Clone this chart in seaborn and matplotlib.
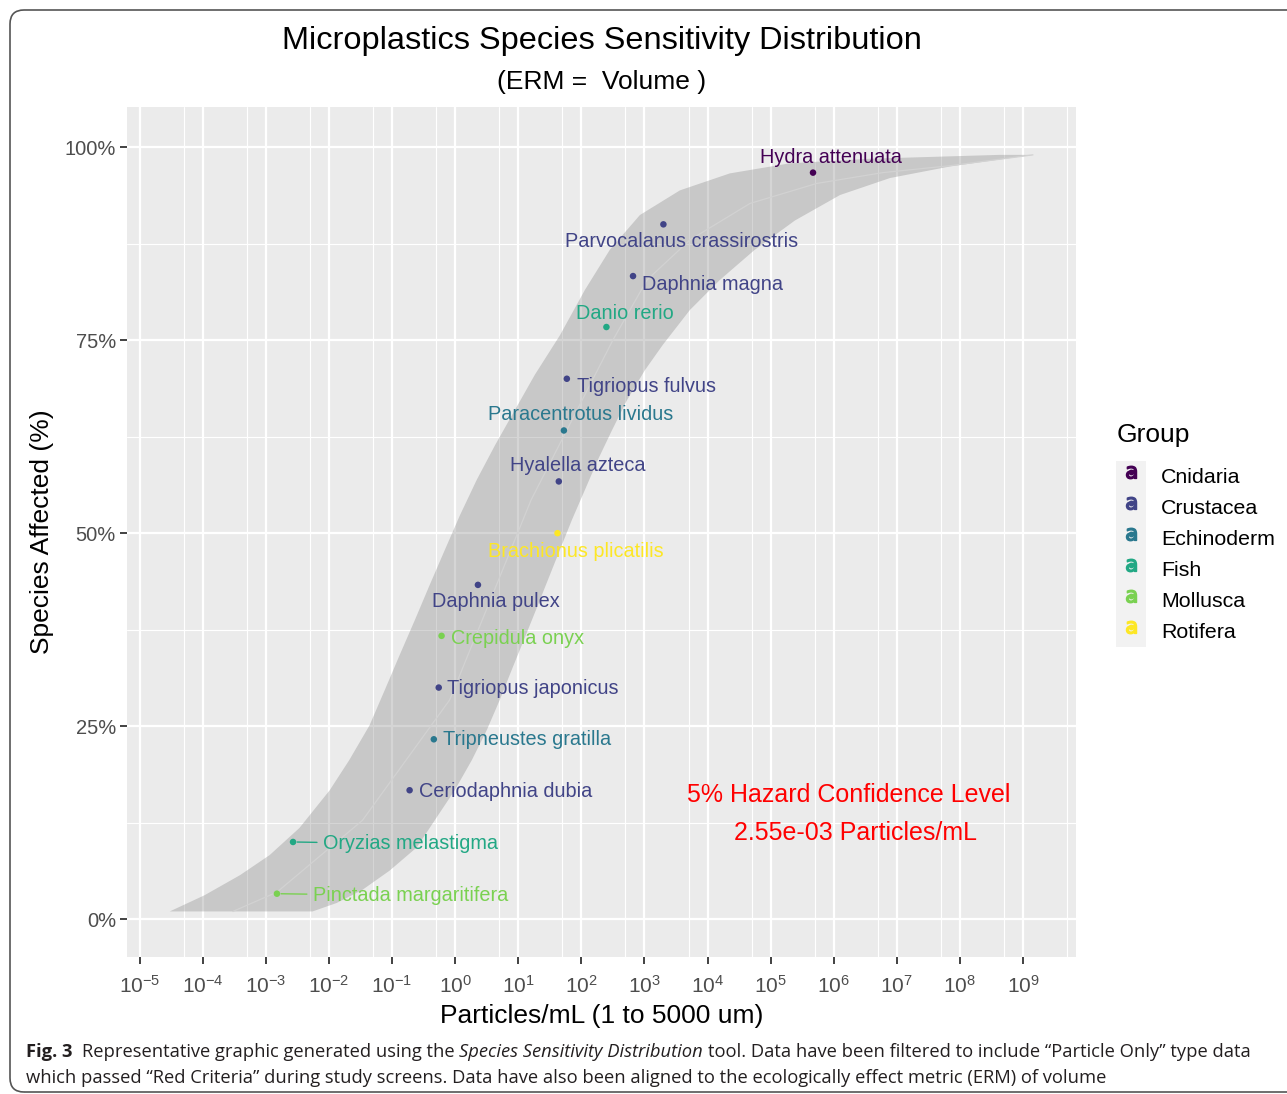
import matplotlib
matplotlib.use("Agg")
import matplotlib.pyplot as plt
import seaborn as sns
import pandas as pd
from matplotlib.ticker import FixedLocator, LogFormatterSciNotation, PercentFormatter, NullFormatter
from matplotlib.lines import Line2D
from matplotlib.patches import Patch, FancyBboxPatch
from matplotlib.legend_handler import HandlerTuple
from matplotlib.transforms import IdentityTransform

# --- data ---
species = ["Pinctada margaritifera", "Oryzias melastigma", "Ceriodaphnia dubia",
           "Tripneustes gratilla", "Tigriopus japonicus", "Crepidula onyx",
           "Daphnia pulex", "Brachionus plicatilis", "Hyalella azteca",
           "Paracentrotus lividus", "Tigriopus fulvus", "Danio rerio",
           "Daphnia magna", "Parvocalanus crassirostris", "Hydra attenuata"]
groups = ["Mollusca", "Fish", "Crustacea", "Echinoderm", "Crustacea", "Mollusca",
          "Crustacea", "Rotifera", "Crustacea", "Echinoderm", "Crustacea", "Fish",
          "Crustacea", "Crustacea", "Cnidaria"]
conc = [1.5e-3, 2.7e-3, 0.19, 0.46, 0.55, 0.61, 2.3, 42, 44, 53, 59, 250, 660, 2000, 4.7e5]
affected = [0.033, 0.100, 0.167, 0.233, 0.300, 0.367, 0.433, 0.500, 0.567,
            0.633, 0.700, 0.767, 0.833, 0.900, 0.967]

group_order = ["Cnidaria", "Crustacea", "Echinoderm", "Fish", "Mollusca", "Rotifera"]
group_colors = ["#440154", "#414487", "#2A788E", "#22A884", "#7AD151", "#FDE725"]

# confidence band edges and fitted curve
band_lo_conc = [3.0e-5, 1.07e-4, 3.9e-4, 1.15e-3, 3.4e-3, 1.03e-2, 2.1e-2, 4.4e-2, 7.7e-2,
                0.132, 0.229, 0.396, 0.685, 1.19, 2.2, 4.3, 8.8, 18.3, 45.6, 114, 283,
                847, 3650, 2.26e4, 2.0e5, 3.75e6, 4.3e8]
band_lo_frac = [0.01, 0.031, 0.057, 0.083, 0.118, 0.167, 0.206, 0.251, 0.297,
                0.342, 0.387, 0.433, 0.478, 0.523, 0.569, 0.614, 0.659, 0.705, 0.756, 0.815, 0.867,
                0.912, 0.944, 0.966, 0.979, 0.985, 0.99]
band_hi_conc = [5.5e-3, 1.33e-2, 3.4e-2, 9.2e-2, 0.247, 0.475, 0.986, 1.84, 3.18, 5.1,
                7.9, 12.2, 19.0, 29.4, 45.6, 70.8, 114, 183, 305, 527, 1016, 1960, 5250,
                1.57e4, 5.6e4, 2.43e5, 1.26e6, 7.8e6, 7.0e7, 1.44e9]
band_hi_frac = [0.01, 0.021, 0.038, 0.063, 0.093, 0.128, 0.167, 0.206, 0.245, 0.284,
                0.323, 0.361, 0.400, 0.439, 0.478, 0.517, 0.556, 0.595, 0.633, 0.672, 0.711,
                0.744, 0.789, 0.828, 0.867, 0.905, 0.938, 0.960, 0.975, 0.99]
fit_conc = [3.0e-4, 1.5e-3, 3.4e-2, 0.82, 16, 316, 1.1e3, 5.3e3, 4.7e4, 5.4e5, 6.0e6, 7.0e7, 1.44e9]
fit_frac = [0.01, 0.035, 0.128, 0.284, 0.543, 0.75, 0.828, 0.88, 0.927, 0.953, 0.967, 0.976, 0.99]

hc5_lines = ["5% Hazard Confidence Level", "2.55e-03 Particles/mL"]

# label offsets in pixels (dx, dy, ha) from each point
label_offsets = [(36, -2, "left"), (30, -2, "left"), (9, -1, "left"), (9, 0, "left"),
                 (8, -1, "left"), (9, -3, "left"), (18, -17, "center"), (18, -18, "center"),
                 (19, 16, "center"), (17, 16, "center"), (10, -8, "left"), (18, 14, "center"),
                 (9, -8, "left"), (18, -17, "center"), (18, 15, "center")]

df = pd.DataFrame({"species": species, "group": groups, "conc": conc, "affected": affected})
palette = dict(zip(group_order, group_colors))

sns.set_theme(style="darkgrid", rc={"axes.facecolor": "#EBEBEB", "grid.color": "white",
                                    "text.color": "black"})
plt.rcParams["font.family"] = ["Liberation Sans", "DejaVu Sans"]

fig = plt.figure(figsize=(12.87, 10.94), dpi=100)
ax = fig.add_axes([127 / 1287, 1 - 957 / 1094, 949 / 1287, 850 / 1094])

# band
ax.fill(band_lo_conc + band_hi_conc[::-1], band_lo_frac + band_hi_frac[::-1],
        color="#878787", alpha=0.35, lw=0, zorder=2)
sns.lineplot(x=fit_conc, y=fit_frac, sort=False, estimator=None, color="#d2d2d2",
             lw=0.9, ax=ax, zorder=3)
sns.scatterplot(data=df, x="conc", y="affected", hue="group", palette=palette,
                s=22, edgecolor="none", legend=False, ax=ax, zorder=4)

for (name, grp, cx, cy), (dx, dy, ha) in zip(df[["species", "group", "conc", "affected"]].values,
                                             label_offsets):
    col = palette[grp]
    arrow = None
    if dx >= 25:
        arrow = dict(arrowstyle="-", color=col, lw=1, shrinkA=2, shrinkB=3)
    ax.annotate(name, (cx, cy), xytext=(dx, dy), textcoords="offset pixels",
                ha=ha, va="center", color=col, fontsize=14.3, arrowprops=arrow, zorder=5)

ax.set_xscale("log")
ax.set_xlim(10 ** -5.2, 10 ** 9.84)
ax.set_ylim(-0.049, 1.052)
ax.xaxis.set_major_locator(FixedLocator([10.0 ** k for k in range(-5, 10)]))
ax.xaxis.set_major_formatter(LogFormatterSciNotation())
ax.xaxis.set_minor_locator(FixedLocator([5 * 10.0 ** k for k in range(-6, 10)]))
ax.xaxis.set_minor_formatter(NullFormatter())
ax.yaxis.set_major_locator(FixedLocator([0, 0.25, 0.5, 0.75, 1.0]))
ax.yaxis.set_major_formatter(PercentFormatter(1.0, decimals=0))
ax.yaxis.set_minor_locator(FixedLocator([0.125, 0.375, 0.625, 0.875]))
ax.grid(which="major", color="white", lw=1.6)
ax.grid(which="minor", color="white", lw=0.8)
ax.tick_params(which="major", length=5, width=1.3, color="#333333", labelcolor="#4D4D4D",
               bottom=True, left=True, pad=3)
ax.tick_params(axis="x", labelsize=15, pad=8)
ax.tick_params(axis="y", labelsize=14.5)
ax.tick_params(which="minor", length=0)
for sp in ax.spines.values():
    sp.set_visible(False)

ax.set_xlabel("Particles/mL (1 to 5000 um)", fontsize=19, color="black")
ax.set_ylabel("Species Affected (%)", fontsize=19, color="black")
ax.xaxis.set_label_coords(0.5, (957 - 1016) / 850)
ax.xaxis.label.set_va("center")
ax.yaxis.set_label_coords((42 - 127) / 949, 0.5)
ax.yaxis.label.set_va("center")

for line, (tx, ty) in zip(hc5_lines, [(849, 795), (856, 833)]):
    ax.text((tx - 127) / 949, (957 - ty) / 850, line, transform=ax.transAxes, color="#FF0000",
            fontsize=18, ha="center", va="center")

fig.text(602 / 1287, 1 - 41 / 1094, "Microplastics Species Sensitivity Distribution",
         ha="center", va="center", fontsize=23.4)
fig.text(602 / 1287, 1 - 82 / 1094, "(ERM =  Volume )", ha="center", va="center", fontsize=19)

# legend
fig.text(1117 / 1287, 1 - 435 / 1094, "Group", ha="left", va="center", fontsize=19)
handles = [(Patch(facecolor="#F2F2F2", edgecolor="none"),
            Line2D([], [], ls="", marker=r"$\mathsf{a}$", ms=9, color=c),
            Line2D([], [], ls="", marker="o", ms=3.2, color=c)) for c in group_colors]
leg = fig.legend(handles, group_order, loc="upper left",
                 bbox_to_anchor=(1116 / 1287, 1 - 461 / 1094), frameon=False,
                 handler_map={tuple: HandlerTuple(ndivide=1, pad=0)},
                 fontsize=15.4, handlelength=1.4, handleheight=1.85,
                 labelspacing=0, handletextpad=0.7, borderpad=0, borderaxespad=0)

# caption
renderer = fig.canvas.get_renderer()
cap_kw = dict(family=["Open Sans", "DejaVu Sans"], color="#231F20")


def width_of(s, size, **kw):
    t = fig.text(0, 0, s, fontsize=size, transform=IdentityTransform(), **kw)
    w = t.get_window_extent(renderer).width
    t.remove()
    return w


line1 = [("Fig. 3", "bold", "normal", 0),
         ("Representative graphic generated using the", "normal", "normal", 2),
         ("Species Sensitivity Distribution", "normal", "italic", 1),
         ("tool. Data have been filtered to include \u201cParticle Only\u201d type data", "normal", "normal", 1)]
line2 = [("which passed \u201cRed Criteria\u201d during study screens. Data have also been aligned "
          "to the ecologically effect metric (ERM) of volume", "normal", "normal", 0)]


def run_width(runs, size):
    sp = width_of("a a", size, **cap_kw) - width_of("aa", size, **cap_kw)
    tot = 0
    for s, w, st, gap in runs:
        tot += gap * sp + width_of(s, size, weight=w, style=st, **cap_kw)
    return tot, sp


cap_size = 13.0 * 1222 / run_width(line1, 13.0)[0]
for runs, base in [(line1, 1094 - 1057), (line2, 1094 - 1083)]:
    _, sp = run_width(runs, cap_size)
    x = 26
    for s, w, st, gap in runs:
        x += gap * sp
        t = fig.text(x, base, s, fontsize=cap_size, weight=w, style=st, va="baseline",
                     transform=IdentityTransform(), **cap_kw)
        x += t.get_window_extent(renderer).width

fig.add_artist(FancyBboxPatch((10, 2), 1300, 1082, boxstyle="round,pad=0,rounding_size=14",
                              transform=IdentityTransform(), fill=False, ec="#555555", lw=1.2))

fig.savefig("out.png", dpi=100)
